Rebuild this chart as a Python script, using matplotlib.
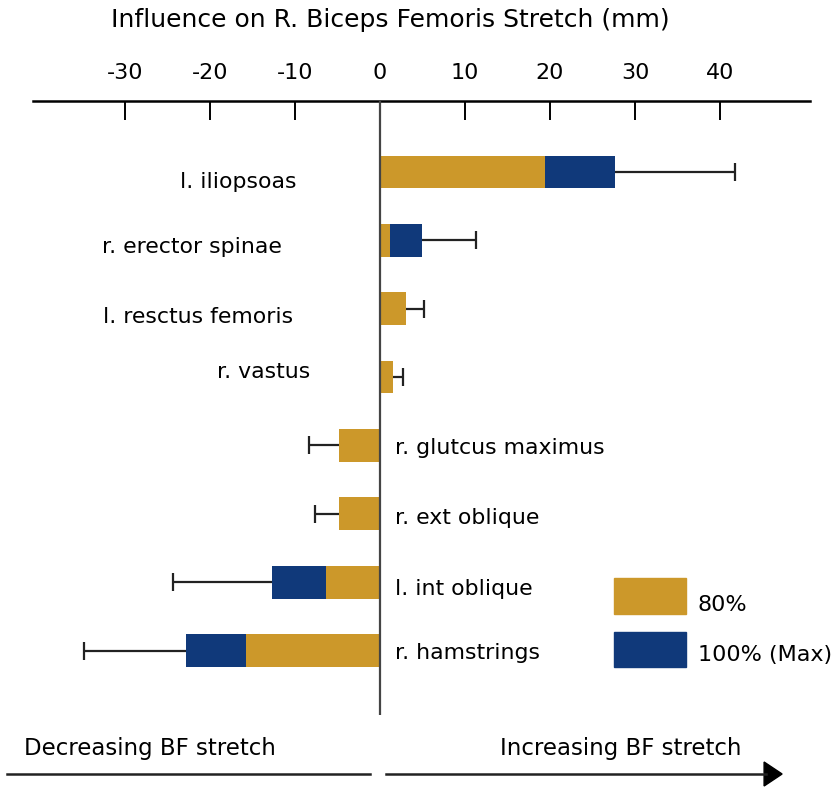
import numpy as np
import matplotlib
matplotlib.use("Agg")
import matplotlib.pyplot as plt
from matplotlib.patches import Rectangle, FancyArrow

# data
muscles = ["l. iliopsoas", "r. erector spinae", "l. resctus femoris", "r. vastus",
           "r. glutcus maximus", "r. ext oblique", "l. int oblique", "r. hamstrings"]
val80 = [19.4, 1.2, 3.0, 1.5, -4.8, -4.8, -6.4, -15.8]
val100 = [27.6, 4.9, 3.0, 1.5, -4.8, -4.8, -12.7, -22.8]
err = [14.2, 6.4, 2.2, 1.2, 3.6, 2.8, 11.7, 12.0]
ticks = [-30, -20, -10, 0, 10, 20, 30, 40]
title = "Influence on R. Biceps Femoris Stretch (mm)"

gold = "#CC982A"
blue = "#10397A"
W, H = 833, 787
font = "DejaVu Sans"

fig = plt.figure(figsize=(W / 100, H / 100), dpi=100)

# main axes: top line at y=101px, x from 33 to 810 px, 0 at 380px, 8.5 px/unit
ax = fig.add_axes([33 / W, 1 - 715 / H, (810 - 33) / W, (715 - 101) / H])
ax.set_xlim((33 - 380) / 8.5, (810 - 380) / 8.5)
ax.set_ylim((715 - 172) / 68.36, (101 - 172) / 68.36)

y = np.arange(len(muscles))
ax.barh(y, val100, height=0.48, color=blue, zorder=2)
ax.barh(y, val80, height=0.48, color=gold, zorder=3)

# one-sided error bars, pointing away from zero
v100 = np.array(val100)
ends = v100 + np.sign(v100) * np.array(err)
ax.hlines(y, v100, ends, color="#222222", lw=1.6, zorder=1)
ax.plot(ends, y, ls="none", marker="|", ms=13, mew=1.6, color="#222222", zorder=1)

ax.axvline(0, color="#444444", lw=1.6, zorder=4)

# category labels (pixel placement tweaks)
label_right = [296, 282, 293, 310]
label_dy = [10, 7, 8, -5, 3, 4, 7, 2]
for i, name in enumerate(muscles):
    yy = i + label_dy[i] / 68.36
    if val100[i] > 0:
        ax.text((label_right[i] - 380) / 8.5, yy, name, ha="right", va="center",
                fontsize=15.8, family=font)
    else:
        ax.text(15 / 8.5, yy, name, ha="left", va="center",
                fontsize=15.8, family=font)

for s in ["left", "right", "bottom"]:
    ax.spines[s].set_visible(False)
ax.spines["top"].set_linewidth(1.8)
ax.set_yticks([])
ax.xaxis.tick_top()
ax.set_xticks(ticks)
ax.set_xticklabels([str(t) for t in ticks], family=font, fontsize=16)
ax.tick_params(axis="x", direction="in", length=14, width=1.4, pad=13)

# overlay in pixel coordinates for annotations
ov = fig.add_axes([0, 0, 1, 1], facecolor="none")
ov.set_xlim(0, W)
ov.set_ylim(H, 0)
ov.axis("off")

ov.text(390, 20, title, ha="center", va="center", fontsize=18, family=font)

ov.text(24, 749, "Decreasing BF stretch", ha="left", va="center", fontsize=16.5, family=font)
ov.text(742, 749, "Increasing BF stretch", ha="right", va="center", fontsize=16.5, family=font)
ov.plot([7, 370], [774, 774], color="#222222", lw=1.8)
ov.plot([386, 766], [774, 774], color="#222222", lw=1.8)
ov.add_patch(FancyArrow(764, 774, 0.1, 0, width=0, head_width=24, head_length=18,
                        length_includes_head=False, color="black"))

ov.add_patch(Rectangle((614, 578), 72, 36, color=gold))
ov.add_patch(Rectangle((614, 632), 72, 35, color=blue))
ov.text(698, 605, "80%", ha="left", va="center", fontsize=16, family=font)
ov.text(698, 655, "100% (Max)", ha="left", va="center", fontsize=16, family=font)

fig.savefig("out.png", dpi=100)
